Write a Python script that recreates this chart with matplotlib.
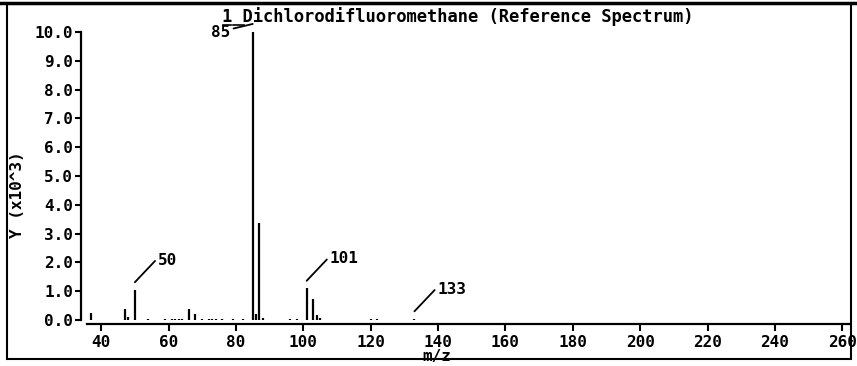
import matplotlib
matplotlib.use("Agg")
import matplotlib.pyplot as plt
from matplotlib.lines import Line2D
from matplotlib.patches import Rectangle

# peaks (m/z, intensity in units of 10^3)
mz = [37, 47, 48, 50, 54, 59, 61, 62, 63, 64, 66, 68, 70, 72, 73, 74,
      76, 79, 82, 85, 86, 87, 88, 96, 98, 101, 103, 104, 105, 120, 122, 133]
intensity = [0.25, 0.38, 0.10, 1.05, 0.04, 0.04, 0.04, 0.04, 0.04, 0.04,
             0.38, 0.20, 0.04, 0.04, 0.04, 0.04, 0.04, 0.04, 0.04,
             10.0, 0.20, 3.35, 0.08, 0.04, 0.04, 1.10, 0.73, 0.17, 0.08,
             0.04, 0.04, 0.04]
labelled = [50, 85, 101, 133]

title = "1 Dichlorodifluoromethane (Reference Spectrum)"
xticks = list(range(40, 261, 20))
yticks = [float(v) for v in range(0, 11)]

W, H = 857, 366
font = dict(family="DejaVu Sans Mono", weight="bold", size=11.5)

fig = plt.figure(figsize=(W / 100, H / 100), dpi=100)
ax = fig.add_axes([87 / W, 1 - 324 / H, (849 - 87) / W, (324 - 32) / H])

ax.vlines(mz, 0, intensity, color="black", linewidth=1.6)

ax.set_xlim(35.8, 262)
ax.set_ylim(-0.14, 10.0)

for side in ("top", "right"):
    ax.spines[side].set_visible(False)
ax.spines["left"].set_position(("outward", 4))
ax.spines["left"].set_bounds(0, 10)
ax.spines["left"].set_linewidth(1.6)
ax.spines["bottom"].set_linewidth(1.6)

ax.set_xticks(xticks)
ax.set_xticklabels([str(v) for v in xticks], **font)
ax.set_yticks(yticks)
ax.set_yticklabels(["%.1f" % v for v in yticks], **font)
ax.tick_params(axis="x", length=5, width=1.5, pad=3)
ax.tick_params(axis="y", length=4, width=1.5, pad=2)

# peak labels with leader lines
for m in labelled:
    y = intensity[mz.index(m)]
    if m == 85:
        ax.annotate(str(m), xy=(m, y + 0.28), xytext=(-22, -9),
                    textcoords="offset pixels", ha="right", va="center",
                    annotation_clip=False,
                    arrowprops=dict(arrowstyle="-", lw=1.3, shrinkA=0,
                                    shrinkB=0, relpos=(1, 0.75)), **font)
    else:
        ax.annotate(str(m), xy=(m, y + 0.26), xytext=(23, 22),
                    textcoords="offset pixels", ha="left", va="center",
                    annotation_clip=False,
                    arrowprops=dict(arrowstyle="-", lw=1.3, shrinkA=0,
                                    shrinkB=0, relpos=(0, 0.65)), **font)

fig.text(222 / W, 1 - 17 / H, title, ha="left", va="center",
         **dict(font, size=12.3))
# underscores under "1" and "D" of the title
for x0, x1 in [(223, 231), (233, 244)]:
    fig.add_artist(Line2D([x0 / W, x1 / W], [1 - 25 / H, 1 - 25 / H],
                          color="black", lw=1.2))

fig.text(18 / W, 1 - 195 / H, "Y (x10^3)", rotation=90, ha="center",
         va="center", **font)
fig.text(437 / W, 1 - 357 / H, "m/z", ha="center", va="center", **font)

# outer frame of the plot window
fig.add_artist(Rectangle((7 / W, 1 - 359 / H), (851 - 7) / W, (359 - 4) / H,
                         transform=fig.transFigure, fill=False,
                         edgecolor="black", lw=1.5))
fig.add_artist(Line2D([0, 1], [1 - 3 / H, 1 - 3 / H], color="black", lw=2.5))

fig.savefig("out.png", dpi=100)
